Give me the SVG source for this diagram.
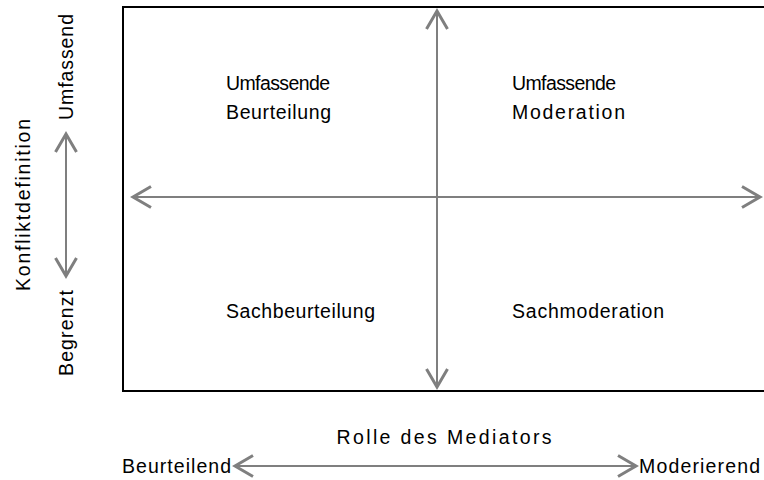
<svg xmlns="http://www.w3.org/2000/svg" width="764" height="480" viewBox="0 0 764 480">
<style>
text{font-family:"Liberation Sans",Arial,sans-serif;font-size:19.5px;fill:#000}
.ax{stroke:#7f7f7f;stroke-width:2;fill:none}
</style>
<defs>
<marker id="ah" markerUnits="userSpaceOnUse" markerWidth="30" markerHeight="30" viewBox="-15 -10 20 20" refX="0" refY="0" orient="auto-start-reverse">
<path d="M-12,-7 L0,0 L-12,7" fill="none" stroke="#7f7f7f" stroke-width="2"/>
</marker>
</defs>
<rect x="0" y="0" width="764" height="480" fill="#fff"/>
<g id="frame"><rect x="123" y="7" width="660" height="384" fill="none" stroke="#000" stroke-width="2"/></g>
<g id="connectors">
<line class="ax" x1="437" y1="11" x2="437" y2="387" marker-start="url(#ah)" marker-end="url(#ah)"/>
<line class="ax" x1="133" y1="197" x2="760" y2="197" marker-start="url(#ah)" marker-end="url(#ah)"/>
<line class="ax" x1="66" y1="134" x2="66" y2="276" marker-start="url(#ah)" marker-end="url(#ah)"/>
<line class="ax" x1="235" y1="466" x2="636" y2="466" marker-start="url(#ah)" marker-end="url(#ah)"/>
</g>
<g id="q1"><text x="226" y="90" textLength="104">Umfassende</text><text x="226" y="119" textLength="105">Beurteilung</text></g>
<g id="q2"><text x="512" y="90" textLength="104">Umfassende</text><text x="512" y="119" textLength="113">Moderation</text></g>
<g id="q3"><text x="226" y="318" textLength="149">Sachbeurteilung</text></g>
<g id="q4"><text x="512" y="318" textLength="152">Sachmoderation</text></g>
<g id="ylabel"><text transform="translate(30,205) rotate(-90)" text-anchor="middle" textLength="172">Konfliktdefinition</text></g>
<g id="ytop"><text transform="translate(73,67) rotate(-90)" text-anchor="middle" textLength="106">Umfassend</text></g>
<g id="ybot"><text transform="translate(73,333) rotate(-90)" text-anchor="middle" textLength="86">Begrenzt</text></g>
<g id="xlabel"><text x="444" y="444" text-anchor="middle" textLength="215">Rolle des Mediators</text></g>
<g id="xleft"><text x="122" y="473" textLength="109">Beurteilend</text></g>
<g id="xright"><text x="639" y="473" textLength="121">Moderierend</text></g>
</svg>
